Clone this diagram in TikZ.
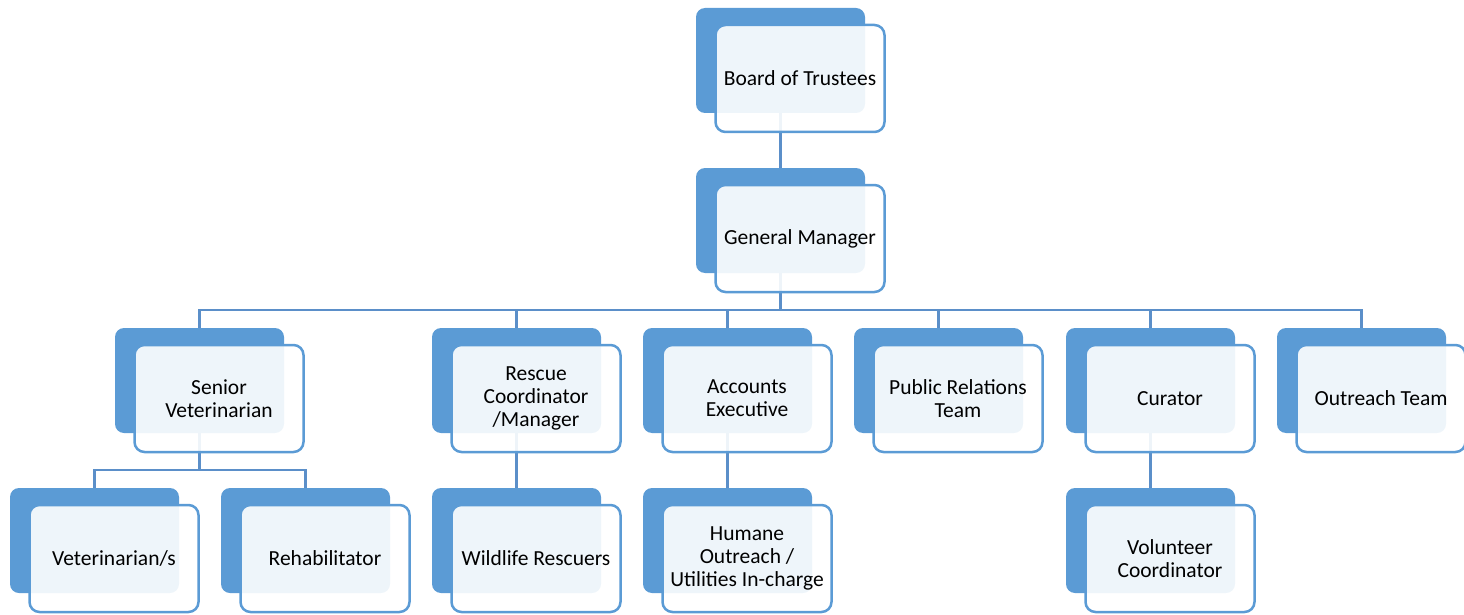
\documentclass[tikz,border=0pt]{standalone}
\usepackage{fontspec}
\setmainfont{Carlito}
\usepackage{tikz}
\usetikzlibrary{backgrounds}

\definecolor{boxblue}{HTML}{5B9BD5}
\definecolor{linkblue}{HTML}{5B8FC9}

\tikzset{
  backbox/.style={fill=boxblue, rounded corners=9pt, minimum width=169pt,
    minimum height=105pt, inner sep=0pt},
  frontbox/.style={draw=boxblue, line width=2.5pt, fill=white, fill opacity=0.9,
    text opacity=1, rounded corners=10pt, minimum width=169pt, minimum height=107pt,
    inner sep=2pt, align=center, font=\fontsize{21.5}{23}\selectfont},
  link/.style={draw=linkblue, line width=2.5pt}
}

% back box + front box with the text
\newcommand{\orgbox}[4]{%
  \node[backbox] (#1-b) at (#2,#3) {};
  \node[frontbox] (#1) at ([shift={(19.5,18)}]#1-b.center) {#4};
}

\begin{document}
\begin{tikzpicture}[x=1pt,y=-1pt]
\useasboundingbox (0,0) rectangle (1464,615);

\orgbox{bt}{780.5}{60.5}{Board of Trustees}
\orgbox{gm}{780.5}{220.5}{General Manager}

\orgbox{sv}{199.5}{380.5}{Senior\\Veterinarian}
\orgbox{rc}{516.5}{380.5}{Rescue\\Coordinator\\/Manager}
\orgbox{ae}{727.5}{380.5}{Accounts\\Executive}
\orgbox{pr}{938.5}{380.5}{Public Relations\\Team}
\orgbox{cu}{1150.5}{380.5}{Curator}
\orgbox{ot}{1361.5}{380.5}{Outreach Team}

\orgbox{vt}{94.5}{540.5}{Veterinarian/s}
\orgbox{rh}{305.5}{540.5}{Rehabilitator}
\orgbox{wr}{516.5}{540.5}{Wildlife Rescuers}
\orgbox{hu}{727.5}{540.5}{Humane\\Outreach /\\Utilities In-charge}
\orgbox{vc}{1150.5}{540.5}{Volunteer\\Coordinator}

\begin{pgfonlayer}{background}
\draw[link] (bt-b.south) -- (gm-b.north);
\foreach \n in {sv,rc,ae,pr,cu,ot}
  \draw[link] (gm-b.south) -- ++(0,37) -| (\n-b.north);
\foreach \n in {vt,rh}
  \draw[link] (sv-b.south) -- ++(0,37) -| (\n-b.north);
\draw[link] (rc-b.south) -- (wr-b.north);
\draw[link] (ae-b.south) -- (hu-b.north);
\draw[link] (cu-b.south) -- (vc-b.north);
\end{pgfonlayer}

\end{tikzpicture}
\end{document}
